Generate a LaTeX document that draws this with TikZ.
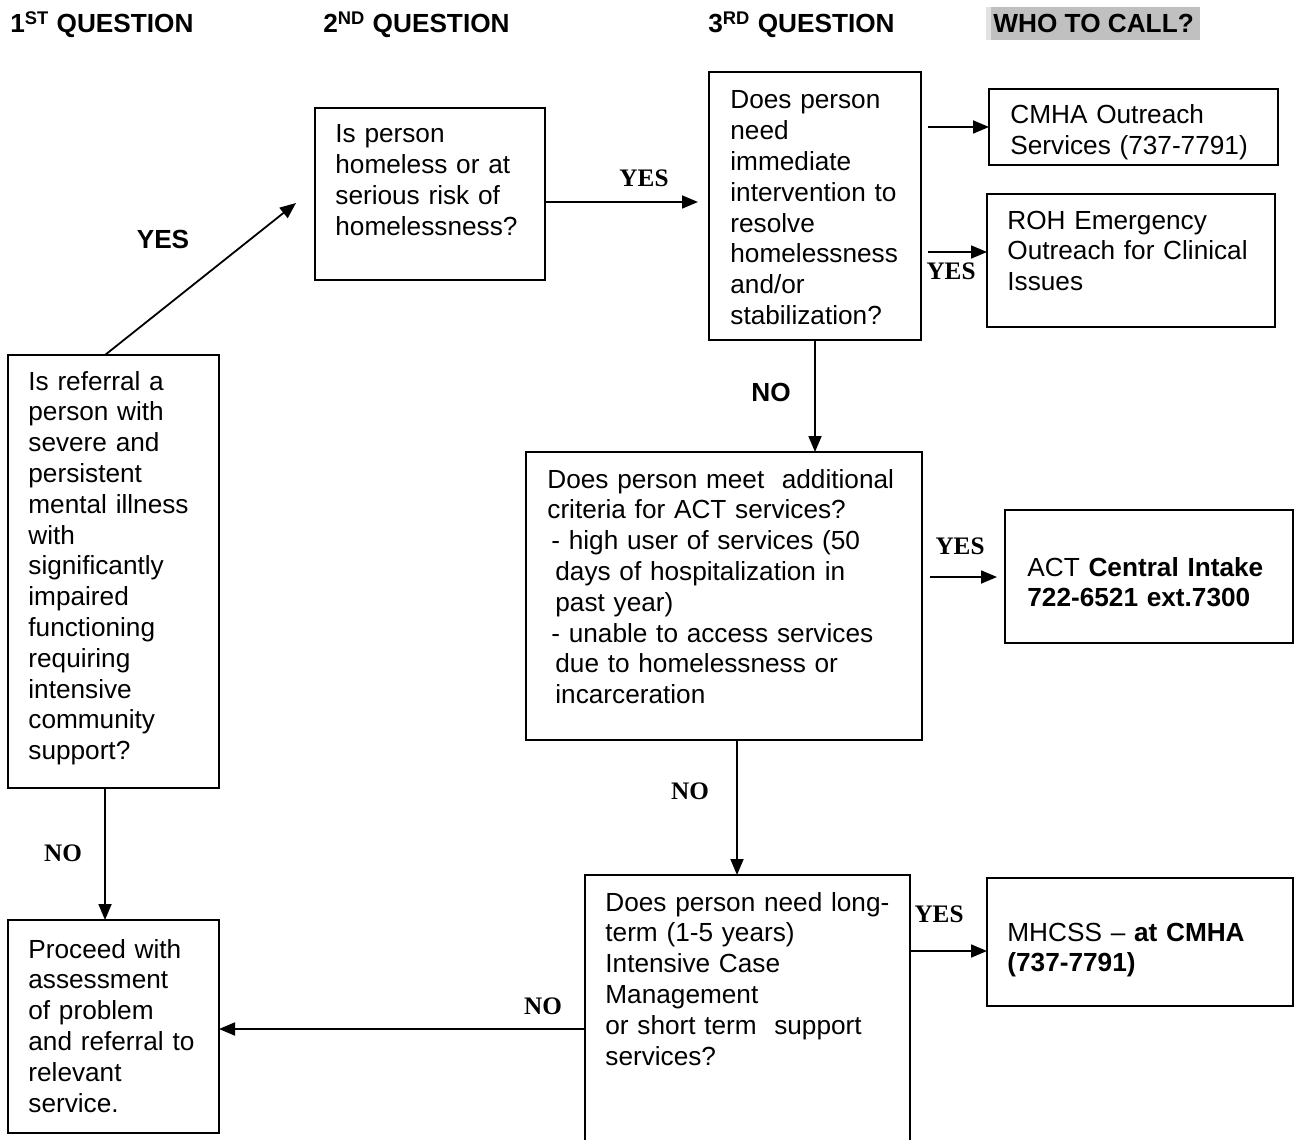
\documentclass[tikz,border=0pt]{standalone}
\usepackage{fontspec}
\setmainfont{Liberation Sans}
\newfontfamily\tms{Liberation Serif}
\usetikzlibrary{arrows.meta}
\definecolor{callgray}{HTML}{C0C0C0}
\definecolor{callgrayl}{HTML}{E2E2E2}
\begin{document}
\begin{tikzpicture}[x=0.5pt,y=-0.5pt,
  box/.style={draw, line width=0.9pt, inner sep=0, outer sep=0, anchor=north west},
  txt/.style={anchor=base west, inner sep=0, align=left, text width=#1, font=\fontsize{13.1pt}{15.4pt}\selectfont},
  hdr/.style={anchor=base west, inner sep=0, font=\fontsize{13.1pt}{15.4pt}\selectfont\bfseries},
  lab/.style={inner sep=0, font=\fontsize{12.6pt}{14pt}\selectfont\tms\bfseries},
  labs/.style={inner sep=0, font=\fontsize{13.1pt}{15pt}\selectfont\bfseries},
  arr/.style={line width=0.9pt, -{Triangle[length=8pt,width=6.5pt]}}
]
\useasboundingbox (0,0) rectangle (1294,1139);
\clip (0,0) rectangle (1294,1139);

% headers
\fill[callgray] (986,7) rectangle (1200,40);
\fill[callgrayl] (986,7) rectangle (991,40);
\node[hdr] (h1) at (10,33) {1\textsuperscript{ST} QUESTION};
\node[hdr] (h2) at (323,33) {2\textsuperscript{ND} QUESTION};
\node[hdr] (h3) at (708,33) {3\textsuperscript{RD} QUESTION};
\node[hdr] (h4) at (993,33) {WHO TO CALL?};

% boxes
\node[box, minimum width=105.5pt, minimum height=216.5pt] (A) at (8,355) {};
\node[box, minimum width=115pt, minimum height=86pt] (B) at (315,108) {};
\node[box, minimum width=106pt, minimum height=134pt] (C) at (709,72) {};
\node[box, minimum width=144.5pt, minimum height=38pt] (CM) at (989,89) {};
\node[box, minimum width=144pt, minimum height=66.5pt] (ROH) at (987,194) {};
\node[box, minimum width=198pt, minimum height=144pt] (D) at (526,452) {};
\node[box, minimum width=144pt, minimum height=66.5pt] (ACT) at (1005,510) {};
\node[box, minimum width=162.5pt, minimum height=142.5pt] (E) at (585,875) {};
\node[box, minimum width=153pt, minimum height=64pt] (MH) at (987,878) {};
\node[box, minimum width=105.5pt, minimum height=106.5pt] (F) at (8,920) {};

% texts
\node[txt=100pt] (tA) at (28,390) {Is referral a\\person with\\severe and\\persistent\\mental illness\\with\\significantly\\impaired\\functioning\\requiring\\intensive\\community\\support?};
\node[txt=110pt] (tB) at (335,143) {Is person\\homeless or at\\serious risk of\\homelessness?};
\node[txt=100pt] (tC) at (730,109) {Does person\\need\\immediate\\intervention to\\resolve\\homelessness\\and/or\\stabilization?};
\node[txt=140pt] (tCM) at (1010,124) {CMHA Outreach\\Services (737-7791)};
\node[txt=140pt] (tROH) at (1007,229) {ROH Emergency\\Outreach for Clinical\\Issues};
\node[txt=190pt] (tD) at (547,488) {Does person meet\ \ additional\\criteria for ACT services?\\\hspace*{2pt}- high user of services (50\\\hspace*{4pt}days of hospitalization in\\\hspace*{4pt}past year)\\\hspace*{2pt}- unable to access services\\\hspace*{4pt}due to homelessness or\\\hspace*{4pt}incarceration};
\node[txt=140pt] (tACT) at (1027,576) {ACT \textbf{Central Intake}\\\textbf{722-6521 ext.7300}};
\node[txt=155pt] (tE) at (605,911) {Does person need long-\\term (1-5 years)\\Intensive Case\\Management\\or short term\ \ support\\services?};
\node[txt=145pt] (tMH) at (1007,941) {MHCSS -- \textbf{at CMHA}\\\textbf{(737-7791)}};
\node[txt=100pt] (tF) at (28,958) {Proceed with\\assessment\\of problem\\and referral to\\relevant\\service.};

% coordinates
\coordinate (xa) at (105,0);
\coordinate (xc) at (815,0);
\coordinate (xd) at (737,0);
\coordinate (aB) at (296,203);
\coordinate (yb) at (0,202);
\coordinate (tCx) at (698,202);
\coordinate (c1) at (928,127);
\coordinate (c2) at (928,252);
\coordinate (d1) at (930,577);
\coordinate (d2) at (997,577);
\coordinate (e1) at (0,951);
\coordinate (e2) at (0,1029);

% connectors
\draw[arr] (A.north -| xa) -- (aB);
\draw[arr] (B.east |- yb) -- (tCx);
\draw[arr] (c1) -- (CM.west |- c1);
\draw[arr] (c2) -- (ROH.west |- c2);
\draw[arr] (C.south -| xc) -- (D.north -| xc);
\draw[arr] (d1) -- (d2);
\draw[arr] (D.south -| xd) -- (E.north -| xd);
\draw[arr] (E.east |- e1) -- (MH.west |- e1);
\draw[arr] (E.west |- e2) -- (F.east |- e2);
\draw[arr] (A.south -| xa) -- (F.north -| xa);

% labels
\node[labs] (l1) at (163,239) {YES};
\node[lab] (l2) at (644,178) {YES};
\node[lab] (l3) at (951,271) {YES};
\node[labs] (l4) at (771,392) {NO};
\node[lab] (l5) at (960,546) {YES};
\node[lab] (l6) at (690,791) {NO};
\node[lab] (l7) at (939,914) {YES};
\node[lab] (l8) at (543,1006) {NO};
\node[lab] (l9) at (63,853) {NO};
\end{tikzpicture}
\end{document}
